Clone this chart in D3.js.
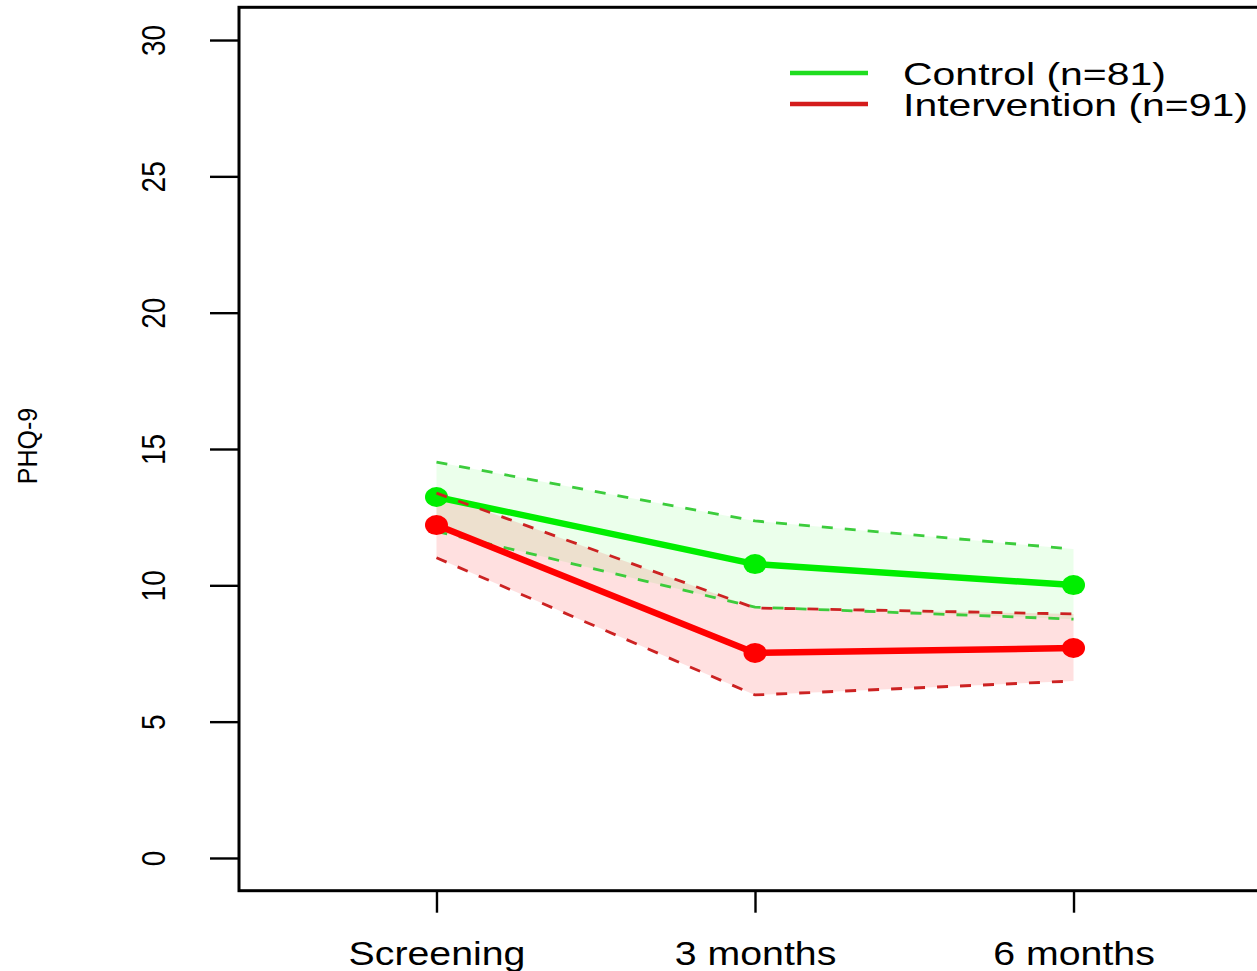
<!DOCTYPE html>
<html>
<head>
<meta charset="utf-8">
<script src="https://cdn.jsdelivr.net/npm/d3@7"></script>
<style>
  html, body { margin: 0; padding: 0; background: #fff; }
  svg { display: block; }
  text { font-family: "Liberation Sans", Arial, sans-serif; fill: #000; }
</style>
</head>
<body>
<svg id="chart" width="1257" height="971"></svg>
<script>
// ---- data ----
const categories = ["Screening", "3 months", "6 months"];
const timeIndex = [1, 2, 3];
const yTicks = [0, 5, 10, 15, 20, 25, 30];

const controlMean  = [13.24, 10.78, 10.01];
const controlUpper = [14.52, 12.36, 11.33];
const controlLower = [11.98, 9.20, 8.76];

const interventionMean  = [12.21, 7.52, 7.70];
const interventionUpper = [13.38, 9.17, 8.95];
const interventionLower = [11.01, 5.98, 6.49];

const legendLabels = ["Control (n=81)", "Intervention (n=91)"];

// ---- layout ----
const svg = d3.select("#chart");
const plotLeft = 239, plotRight = 1271, plotTop = 7.3, plotBottom = 890.7;

const x = d3.scaleLinear().domain([0.38, 3.62]).range([plotLeft, plotRight]);
const y = d3.scaleLinear().domain([-1.2, 31.2]).range([plotBottom, plotTop]);

const series = [
  { mean: controlMean, upper: controlUpper, lower: controlLower,
    color: "#00ee00", dash: "#3ccc3c", fill: "rgba(0,255,0,0.08)" },
  { mean: interventionMean, upper: interventionUpper, lower: interventionLower,
    color: "#ff0000", dash: "#cc2222", fill: "rgba(255,0,0,0.12)" }
];

const area = d3.area()
  .x((d, i) => x(timeIndex[i]))
  .y0(d => y(d[0]))
  .y1(d => y(d[1]));
const line = d3.line()
  .x((d, i) => x(timeIndex[i]))
  .y(d => y(d));

// fills
series.forEach(s => {
  svg.append("path")
    .datum(s.lower.map((v, i) => [v, s.upper[i]]))
    .attr("d", area)
    .attr("fill", s.fill)
    .attr("stroke", "none");
});

// lines, dashed CIs, points
series.forEach(s => {
  [s.upper, s.lower].forEach(arr => {
    svg.append("path")
      .datum(arr)
      .attr("d", line)
      .attr("fill", "none")
      .attr("stroke", s.dash)
      .attr("stroke-width", 2.8)
      .attr("stroke-dasharray", "11,12");
  });
  svg.append("path")
    .datum(s.mean)
    .attr("d", line)
    .attr("fill", "none")
    .attr("stroke", s.color)
    .attr("stroke-width", 6.5)
    .attr("stroke-linejoin", "round");
  svg.selectAll(null)
    .data(s.mean)
    .enter()
    .append("ellipse")
    .attr("cx", (d, i) => x(timeIndex[i]))
    .attr("cy", d => y(d))
    .attr("rx", 11.5)
    .attr("ry", 10)
    .attr("fill", s.color);
});

// box
svg.append("rect")
  .attr("x", plotLeft).attr("y", plotTop)
  .attr("width", plotRight - plotLeft).attr("height", plotBottom - plotTop)
  .attr("fill", "none").attr("stroke", "#000").attr("stroke-width", 3);

// y axis
const yAxis = svg.append("g")
  .attr("transform", `translate(${plotLeft},0)`)
  .call(d3.axisLeft(y).tickValues(yTicks).tickSize(29).tickFormat(d3.format("d")));
yAxis.select(".domain").remove();
yAxis.selectAll(".tick line").attr("stroke", "#000").attr("stroke-width", 2.4);
yAxis.selectAll(".tick text")
  .attr("x", null).attr("dy", null)
  .attr("text-anchor", "middle")
  .attr("font-size", 28)
  .attr("transform", `translate(${165 - plotLeft},0) rotate(-90) scale(1,1.2)`);

// x axis
const xAxis = svg.append("g")
  .attr("transform", `translate(0,${plotBottom})`)
  .call(d3.axisBottom(x).tickValues(timeIndex).tickSize(22).tickFormat((d, i) => categories[i]));
xAxis.select(".domain").remove();
xAxis.selectAll(".tick line").attr("stroke", "#000").attr("stroke-width", 2.4);
xAxis.selectAll(".tick text")
  .attr("y", null).attr("dy", null)
  .attr("text-anchor", "middle")
  .attr("font-size", 33)
  .attr("transform", `translate(0,${965 - plotBottom}) scale(1.19,1)`);

// y label
svg.append("text")
  .attr("text-anchor", "middle")
  .attr("font-size", 25)
  .attr("transform", "translate(37,446) rotate(-90) scale(1,1.1)")
  .text("PHQ-9");

// legend
const legend = svg.append("g");
series.forEach((s, i) => {
  const ly = 73 + i * 31;
  legend.append("line")
    .attr("x1", 790).attr("x2", 868)
    .attr("y1", ly).attr("y2", ly)
    .attr("stroke", i === 0 ? "#1fdd1f" : "#d41c1c")
    .attr("stroke-width", 4.5);
  legend.append("text")
    .attr("font-size", 32)
    .attr("transform", `translate(903,${ly + 12}) scale(1.28,1)`)
    .text(legendLabels[i]);
});
</script>
</body>
</html>
